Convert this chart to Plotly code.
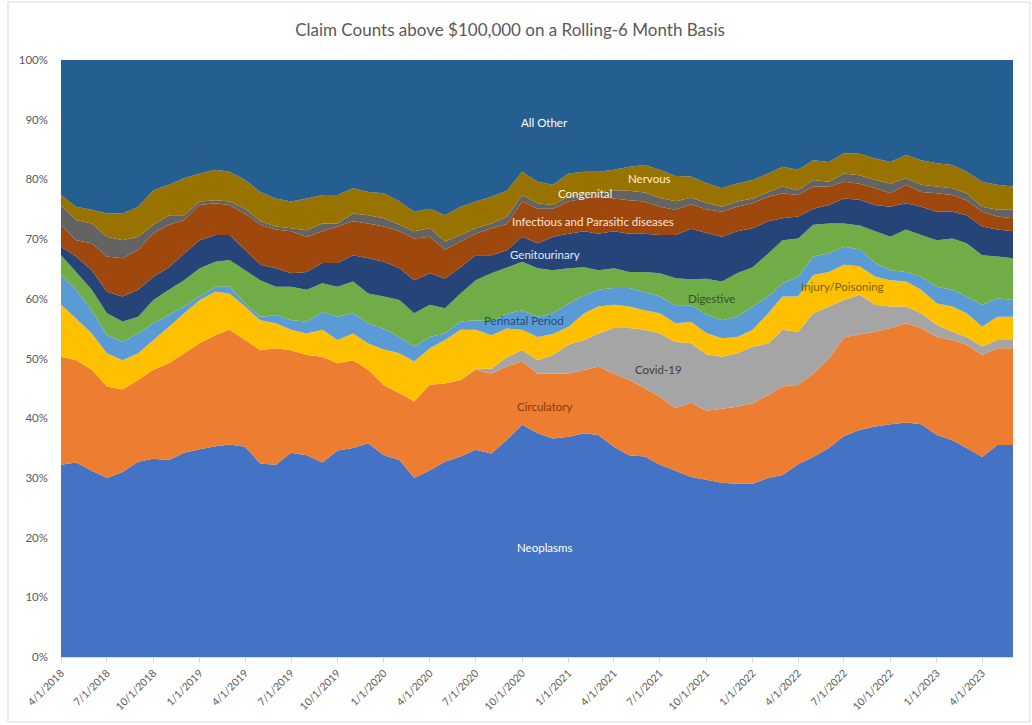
import pandas as pd
import plotly.graph_objects as go

dates = pd.date_range("2018-04-01", periods=63, freq="MS")

neoplasms = [32.2, 32.6, 31.2, 30.0, 31.0, 32.7, 33.2, 33.0, 34.2, 34.8, 35.3,
             35.6, 35.2, 32.4, 32.2, 34.2, 33.8, 32.6, 34.6, 35.0, 35.8, 33.8,
             33.0, 30.0, 31.3, 32.7, 33.6, 34.7, 34.1, 36.3, 38.9, 37.5,
             36.6, 36.9, 37.5, 37.2, 35.2, 33.8, 33.6, 32.2, 31.0, 30.3, 29.8,
             29.2, 29.0, 29.0, 30.0, 30.5, 32.3, 33.5, 35.0, 37.0, 38.0,
             38.6, 39.0, 39.3, 39.0, 37.2, 36.3, 35.0, 33.5, 35.5, 35.5]
circulatory = [18.1, 17.1, 16.9, 15.3, 13.8, 13.7, 14.9, 16.2, 16.7, 17.8, 18.6,
               19.2, 17.9, 19.0, 19.5, 17.2, 16.8, 17.7, 14.6, 14.7, 12.3, 11.7,
               11.2, 12.8, 14.3, 13.1, 12.8, 13.4, 13.4, 12.3, 10.6, 10.0,
               10.9, 10.6, 10.6, 11.4, 12.3, 12.6, 11.4, 11.4, 10.4, 12.5, 11.6,
               12.4, 12.9, 13.5, 13.9, 14.8, 13.3, 14.0, 15.0, 16.5, 16.0,
               15.9, 16.1, 16.6, 16.1, 16.4, 16.8, 17.3, 17.1, 16.2, 16.2]
covid = [0.0] * 27 + [0.2, 0.8, 1.5, 1.9, 2.2,
                      3.1, 4.8, 5.0, 5.6, 7.6, 8.7, 9.8, 10.6, 11.0, 10.0, 9.5,
                      8.7, 9.0, 9.5, 8.6, 9.5, 8.9, 10.1, 8.7, 6.3, 6.6,
                      4.5, 3.6, 2.8, 2.5, 2.0, 1.4, 1.3, 1.4, 1.4, 1.4]
injury = [8.7, 7.0, 6.1, 5.6, 4.9, 4.5, 5.0, 6.1, 6.7, 7.2, 7.3,
          6.1, 5.6, 5.0, 4.2, 3.4, 3.6, 4.5, 3.9, 4.5, 4.4, 6.0,
          6.7, 6.7, 6.1, 7.3, 8.4, 6.5, 5.6, 4.8, 3.4, 3.9,
          3.5, 3.0, 4.5, 4.5, 3.9, 3.6, 3.3, 3.4, 3.1, 3.6, 3.6,
          3.1, 2.7, 2.8, 5.1, 5.6, 5.9, 6.4, 5.8, 5.9, 4.8,
          4.7, 4.4, 4.2, 3.9, 3.6, 4.2, 4.0, 3.3, 3.9, 3.9]
perinatal = [5.0, 4.8, 3.9, 3.0, 3.1, 3.3, 2.8, 2.0, 1.1, 0.6, 0.8,
             1.1, 0.5, 0.6, 1.4, 1.6, 2.0, 3.0, 3.9, 3.4, 3.4, 3.5,
             2.7, 2.5, 1.9, 1.1, 1.4, 1.6, 2.3, 2.5, 3.3, 3.4,
             3.5, 3.9, 3.0, 2.8, 2.8, 3.1, 3.1, 2.8, 3.0, 2.8, 3.1,
             3.0, 3.4, 3.9, 2.8, 2.2, 3.3, 3.1, 3.1, 3.0, 2.8,
             2.3, 1.7, 1.6, 2.2, 2.8, 2.8, 2.8, 3.7, 3.1, 2.8]
digestive = [3.3, 3.0, 3.4, 3.7, 3.4, 2.8, 3.9, 4.2, 4.4, 4.7, 4.2,
             4.5, 5.6, 6.1, 4.7, 5.6, 5.3, 4.8, 5.0, 5.3, 5.0, 5.4,
             6.2, 5.6, 5.4, 4.2, 4.7, 6.7, 8.1, 7.7, 8.1, 8.1,
             7.2, 5.9, 4.7, 3.3, 3.3, 2.7, 3.3, 3.9, 4.5, 4.4, 6.0,
             6.5, 7.3, 6.6, 7.2, 7.2, 6.4, 5.3, 5.0, 3.9, 4.0,
             5.3, 5.6, 7.1, 7.0, 7.8, 8.6, 8.9, 8.3, 7.0, 7.0]
genitourinary = [1.4, 2.6, 3.3, 3.6, 4.2, 4.5, 3.9, 3.8, 4.5, 4.7, 4.5,
                 4.2, 3.4, 2.6, 3.1, 2.3, 3.0, 3.4, 4.0, 4.4, 5.9, 5.8,
                 5.3, 5.5, 5.3, 5.0, 4.4, 4.2, 3.0, 2.9, 4.2, 4.2,
                 5.6, 5.8, 6.0, 6.1, 6.2, 6.4, 6.4, 6.4, 7.2, 8.5, 7.7,
                 7.5, 7.0, 6.5, 5.4, 3.7, 3.7, 2.7, 3.1, 4.2, 4.3,
                 4.4, 5.0, 4.4, 4.7, 4.8, 4.5, 4.7, 4.8, 4.5, 4.5]
infectious = [3.7, 2.7, 4.5, 5.9, 6.4, 6.7, 7.3, 7.1, 5.6, 5.9, 5.3,
              5.0, 6.1, 6.7, 6.5, 7.0, 5.9, 5.3, 6.1, 5.7, 5.8, 5.9,
              6.2, 7.0, 6.1, 4.8, 4.3, 3.6, 4.5, 4.4, 5.9, 5.8,
              4.7, 5.4, 5.5, 6.2, 5.5, 5.6, 5.4, 4.7, 4.2, 4.1, 4.0,
              4.2, 4.1, 4.2, 4.1, 4.2, 3.6, 3.7, 3.1, 2.8, 2.7,
              2.8, 2.3, 3.1, 2.5, 3.1, 2.8, 2.5, 2.5, 2.2, 2.2]
congenital = [3.3, 3.4, 3.3, 3.3, 3.0, 2.2, 1.4, 1.6, 0.8, 0.6, 0.5,
              0.6, 0.8, 0.6, 0.5, 0.5, 1.1, 1.3, 0.5, 1.3, 1.4, 1.4,
              1.1, 1.2, 1.4, 1.4, 1.1, 0.9, 0.8, 1.2, 1.1, 0.9,
              0.6, 0.8, 0.9, 0.8, 1.4, 1.6, 1.5, 1.5, 1.4, 1.1, 1.1,
              0.8, 0.9, 0.8, 0.8, 1.1, 0.8, 1.1, 0.8, 1.4, 1.4,
              1.4, 1.6, 1.1, 1.2, 1.1, 1.1, 1.2, 0.8, 1.1, 1.4]
nervous = [1.7, 2.2, 2.3, 3.9, 4.5, 5.0, 5.8, 5.1, 6.2, 4.7, 5.1,
           5.0, 4.8, 4.9, 4.7, 4.5, 5.3, 4.8, 4.8, 4.2, 3.9, 4.2,
           3.9, 3.3, 3.3, 4.4, 4.7, 4.5, 4.5, 4.4, 3.9, 3.6,
           3.4, 3.9, 3.6, 3.4, 3.4, 4.0, 4.6, 4.7, 4.2, 3.6, 3.3,
           3.1, 3.0, 3.1, 3.1, 3.3, 3.4, 3.3, 3.3, 3.4, 3.6,
           3.6, 3.6, 3.9, 4.1, 3.9, 3.9, 3.6, 4.2, 4.2, 3.9]
all_other = [22.6, 24.6, 25.1, 25.7, 25.7, 24.6, 21.8, 20.9, 19.8, 19.0, 18.4,
             18.7, 20.1, 22.1, 23.2, 23.7, 23.2, 22.6, 22.6, 21.5, 22.1, 22.3,
             23.7, 25.4, 24.9, 26.0, 24.6, 23.7, 22.9, 21.8, 18.7, 20.4,
             20.9, 19.0, 18.7, 18.7, 18.4, 17.9, 17.6, 18.4, 19.3, 19.6, 20.7,
             21.5, 20.7, 20.1, 19.0, 17.9, 18.4, 16.8, 17.1, 15.6, 15.7,
             16.5, 17.1, 15.9, 16.8, 17.3, 17.6, 18.7, 20.4, 20.9, 21.2]

series = [
    ("Neoplasms", neoplasms, "#4472C4"),
    ("Circulatory", circulatory, "#ED7D31"),
    ("Covid-19", covid, "#A5A5A5"),
    ("Injury/Poisoning", injury, "#FFC000"),
    ("Perinatal Period", perinatal, "#5B9BD5"),
    ("Digestive", digestive, "#70AD47"),
    ("Genitourinary", genitourinary, "#264478"),
    ("Infectious and Parasitic diseases", infectious, "#9E480E"),
    ("Congenital", congenital, "#636363"),
    ("Nervous", nervous, "#997300"),
    ("All Other", all_other, "#255E91"),
]

tick_dates = pd.date_range("2018-04-01", "2023-04-01", freq="3MS")
tick_labels = ["4/1/2018", "7/1/2018", "10/1/2018", "1/1/2019", "4/1/2019", "7/1/2019",
               "10/1/2019", "1/1/2020", "4/1/2020", "7/1/2020", "10/1/2020", "1/1/2021",
               "4/1/2021", "7/1/2021", "10/1/2021", "1/1/2022", "4/1/2022", "7/1/2022",
               "10/1/2022", "1/1/2023", "4/1/2023"]

# in-chart labels: (text, date, y-percent, colour)
labels = [
    ("All Other", "2020-11-15", 89.6, "#FFFFFF"),
    ("Nervous", "2021-06-10", 80.2, "#FFF2CC"),
    ("Congenital", "2021-02-03", 77.6, "#FFF2CC"),
    ("Infectious and Parasitic diseases", "2021-02-18", 72.9, "#FBE5D6"),
    ("Genitourinary", "2020-11-15", 67.5, "#DEEBF7"),
    ("Digestive", "2021-10-12", 60.0, "#375623"),
    ("Injury/Poisoning", "2022-06-28", 62.1, "#7F6000"),
    ("Perinatal Period", "2020-10-04", 56.4, "#1F4E79"),
    ("Covid-19", "2021-06-28", 48.2, "#404040"),
    ("Circulatory", "2020-11-15", 41.9, "#843C0C"),
    ("Neoplasms", "2020-11-15", 18.4, "#FFFFFF"),
]

FONT = "Lato, 'Open Sans', sans-serif"

fig = go.Figure()
for name, vals, col in series:
    fig.add_trace(go.Scatter(
        x=dates, y=vals, name=name, mode="none",
        stackgroup="one", groupnorm="percent",
        fill="tonexty", fillcolor=col, line=dict(width=0),
    ))

for text, xd, yv, col in labels:
    fig.add_annotation(x=xd, y=yv, text=text, showarrow=False,
                       font=dict(family=FONT, size=11.5, color=col))

W, H = 1032, 725
L, R, T, B = 61, 19, 60, 68
pw, ph = W - L - R, H - T - B

def px_x(p):
    return (p - L) / pw

def px_y(p):
    return (H - B - p) / ph

fig.add_shape(type="rect", xref="paper", yref="paper",
              x0=px_x(8), x1=px_x(1030), y0=px_y(722), y1=px_y(2),
              line=dict(color="#D9D9D9", width=1), fillcolor="rgba(0,0,0,0)", layer="below")

fig.update_layout(
    width=W, height=H,
    margin=dict(l=L, r=R, t=T, b=B, autoexpand=False),
    paper_bgcolor="white", plot_bgcolor="white",
    showlegend=False,
    font=dict(family=FONT, color="#595959"),
    title=dict(text="Claim Counts above $100,000 on a Rolling-6 Month Basis",
               x=(510) / W, xanchor="center", y=1 - 30 / H, yanchor="middle",
               yref="container", xref="container",
               font=dict(family=FONT, size=17, color="#595959")),
    xaxis=dict(type="date", range=[dates[0], dates[-1]], automargin=False,
               tickvals=list(tick_dates), ticktext=tick_labels, tickangle=-45,
               tickfont=dict(family=FONT, size=10.5, color="#595959"),
               showgrid=False, zeroline=False, showline=True, linecolor="#D9D9D9",
               ticks="outside", ticklen=5, tickcolor="#D9D9D9"),
    yaxis=dict(range=[0, 100], tickvals=list(range(0, 101, 10)), automargin=False,
               ticktext=[f"{v}%" for v in range(0, 101, 10)],
               tickfont=dict(family=FONT, size=11.5, color="#595959"),
               showgrid=False, zeroline=False, showline=False, ticks="",
               ticklabelstandoff=12),
)

fig.write_html("out.html")
